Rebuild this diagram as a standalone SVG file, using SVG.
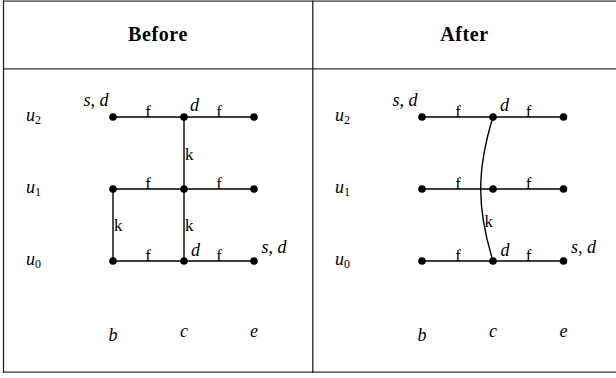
<svg xmlns="http://www.w3.org/2000/svg" width="616" height="378" viewBox="0 0 616 378">
<style>
text{font-family:"Liberation Serif","DejaVu Serif",serif;fill:#000}
.hd{font-size:20px;font-weight:bold;text-anchor:middle;letter-spacing:0.6px}
.m{font-size:18px;font-style:italic}
.sub{font-size:12px;font-style:normal}
.lb{font-size:17px}
.mid{text-anchor:middle}
.end{text-anchor:end}
.e{stroke:#000;stroke-width:1.4;fill:none}
.n{fill:#000}
.rule{stroke:#6e6e6e;stroke-width:1.7}
.vr{stroke:#222;stroke-width:1.3}
</style>
<rect width="616" height="378" fill="#fff"/>
<g id="table">
<line class="rule" x1="3" y1="1.2" x2="616" y2="1.2"/>
<line class="rule" x1="3" y1="68.8" x2="616" y2="68.8"/>
<line class="rule" x1="3" y1="372.2" x2="616" y2="372.2"/>
<line class="vr" x1="3.5" y1="0.5" x2="3.5" y2="373"/>
<line class="vr" x1="312.8" y1="0.5" x2="312.8" y2="373"/>
<text class="hd" x="158" y="41">Before</text>
<text class="hd" x="464.5" y="41">After</text>
</g>
<g id="axis-labels">
<text class="m" x="26" y="120.5">u<tspan class="sub" dy="3.5">2</tspan></text>
<text class="m" x="26" y="192.5">u<tspan class="sub" dy="3.5">1</tspan></text>
<text class="m" x="26" y="264.5">u<tspan class="sub" dy="3.5">0</tspan></text>
<text class="m mid" x="113" y="341">b</text>
<text class="m mid" x="184" y="337">c</text>
<text class="m mid" x="254" y="337">e</text>
<text class="m" x="335" y="120.5">u<tspan class="sub" dy="3.5">2</tspan></text>
<text class="m" x="335" y="192.5">u<tspan class="sub" dy="3.5">1</tspan></text>
<text class="m" x="335" y="264.5">u<tspan class="sub" dy="3.5">0</tspan></text>
<text class="m mid" x="422" y="341">b</text>
<text class="m mid" x="493" y="337">c</text>
<text class="m mid" x="563.5" y="337">e</text>
</g>
<g id="connectors">
<line class="e" x1="113" y1="117" x2="184" y2="117"/>
<line class="e" x1="184" y1="117" x2="254" y2="117"/>
<line class="e" x1="113" y1="189" x2="184" y2="189"/>
<line class="e" x1="184" y1="189" x2="254" y2="189"/>
<line class="e" x1="113" y1="261" x2="184" y2="261"/>
<line class="e" x1="184" y1="261" x2="254" y2="261"/>
<line class="e" x1="184" y1="117" x2="184" y2="189"/>
<line class="e" x1="184" y1="189" x2="184" y2="261"/>
<line class="e" x1="113" y1="189" x2="113" y2="261"/>
<line class="e" x1="422" y1="117" x2="493" y2="117"/>
<line class="e" x1="493" y1="117" x2="563.5" y2="117"/>
<line class="e" x1="422" y1="189" x2="493" y2="189"/>
<line class="e" x1="493" y1="189" x2="563.5" y2="189"/>
<line class="e" x1="422" y1="261" x2="493" y2="261"/>
<line class="e" x1="493" y1="261" x2="563.5" y2="261"/>
<path class="e" d="M493,117 C476.6,170 476.6,208 493,261"/>
<text class="lb mid" x="148" y="116.5">f</text>
<text class="lb mid" x="219" y="116.5">f</text>
<text class="lb mid" x="148" y="188.5">f</text>
<text class="lb mid" x="219" y="188.5">f</text>
<text class="lb mid" x="148" y="260.5">f</text>
<text class="lb mid" x="219" y="260.5">f</text>
<text class="lb" x="185" y="160">k</text>
<text class="lb" x="185" y="231">k</text>
<text class="lb" x="114" y="231">k</text>
<text class="lb mid" x="458" y="116.5">f</text>
<text class="lb mid" x="528.5" y="116.5">f</text>
<text class="lb mid" x="458" y="188.5">f</text>
<text class="lb mid" x="528.5" y="188.5">f</text>
<text class="lb mid" x="458" y="260.5">f</text>
<text class="lb mid" x="528.5" y="260.5">f</text>
<text class="lb" x="484.5" y="227">k</text>
</g>
<g id="before-b2"><circle class="n" cx="113" cy="117" r="3.8"/><text class="m end" x="108.5" y="106">s, d</text></g>
<g id="before-c2"><circle class="n" cx="184" cy="117" r="3.8"/><text class="m" x="190" y="111">d</text></g>
<g id="before-e2"><circle class="n" cx="254" cy="117" r="3.8"/></g>
<g id="before-b1"><circle class="n" cx="113" cy="189" r="3.8"/></g>
<g id="before-c1"><circle class="n" cx="184" cy="189" r="3.8"/></g>
<g id="before-e1"><circle class="n" cx="254" cy="189" r="3.8"/></g>
<g id="before-b0"><circle class="n" cx="113" cy="261" r="3.8"/></g>
<g id="before-c0"><circle class="n" cx="184" cy="261" r="3.8"/><text class="m" x="191" y="256">d</text></g>
<g id="before-e0"><circle class="n" cx="254" cy="261" r="3.8"/><text class="m" x="261.5" y="253">s, d</text></g>
<g id="after-b2"><circle class="n" cx="422" cy="117" r="3.8"/><text class="m end" x="417.5" y="106">s, d</text></g>
<g id="after-c2"><circle class="n" cx="493" cy="117" r="3.8"/><text class="m" x="500" y="111">d</text></g>
<g id="after-e2"><circle class="n" cx="563.5" cy="117" r="3.8"/></g>
<g id="after-b1"><circle class="n" cx="422" cy="189" r="3.8"/></g>
<g id="after-c1"><circle class="n" cx="493" cy="189" r="3.8"/></g>
<g id="after-e1"><circle class="n" cx="563.5" cy="189" r="3.8"/></g>
<g id="after-b0"><circle class="n" cx="422" cy="261" r="3.8"/></g>
<g id="after-c0"><circle class="n" cx="493" cy="261" r="3.8"/><text class="m" x="500.5" y="256">d</text></g>
<g id="after-e0"><circle class="n" cx="563.5" cy="261" r="3.8"/><text class="m" x="571" y="253">s, d</text></g>
</svg>
